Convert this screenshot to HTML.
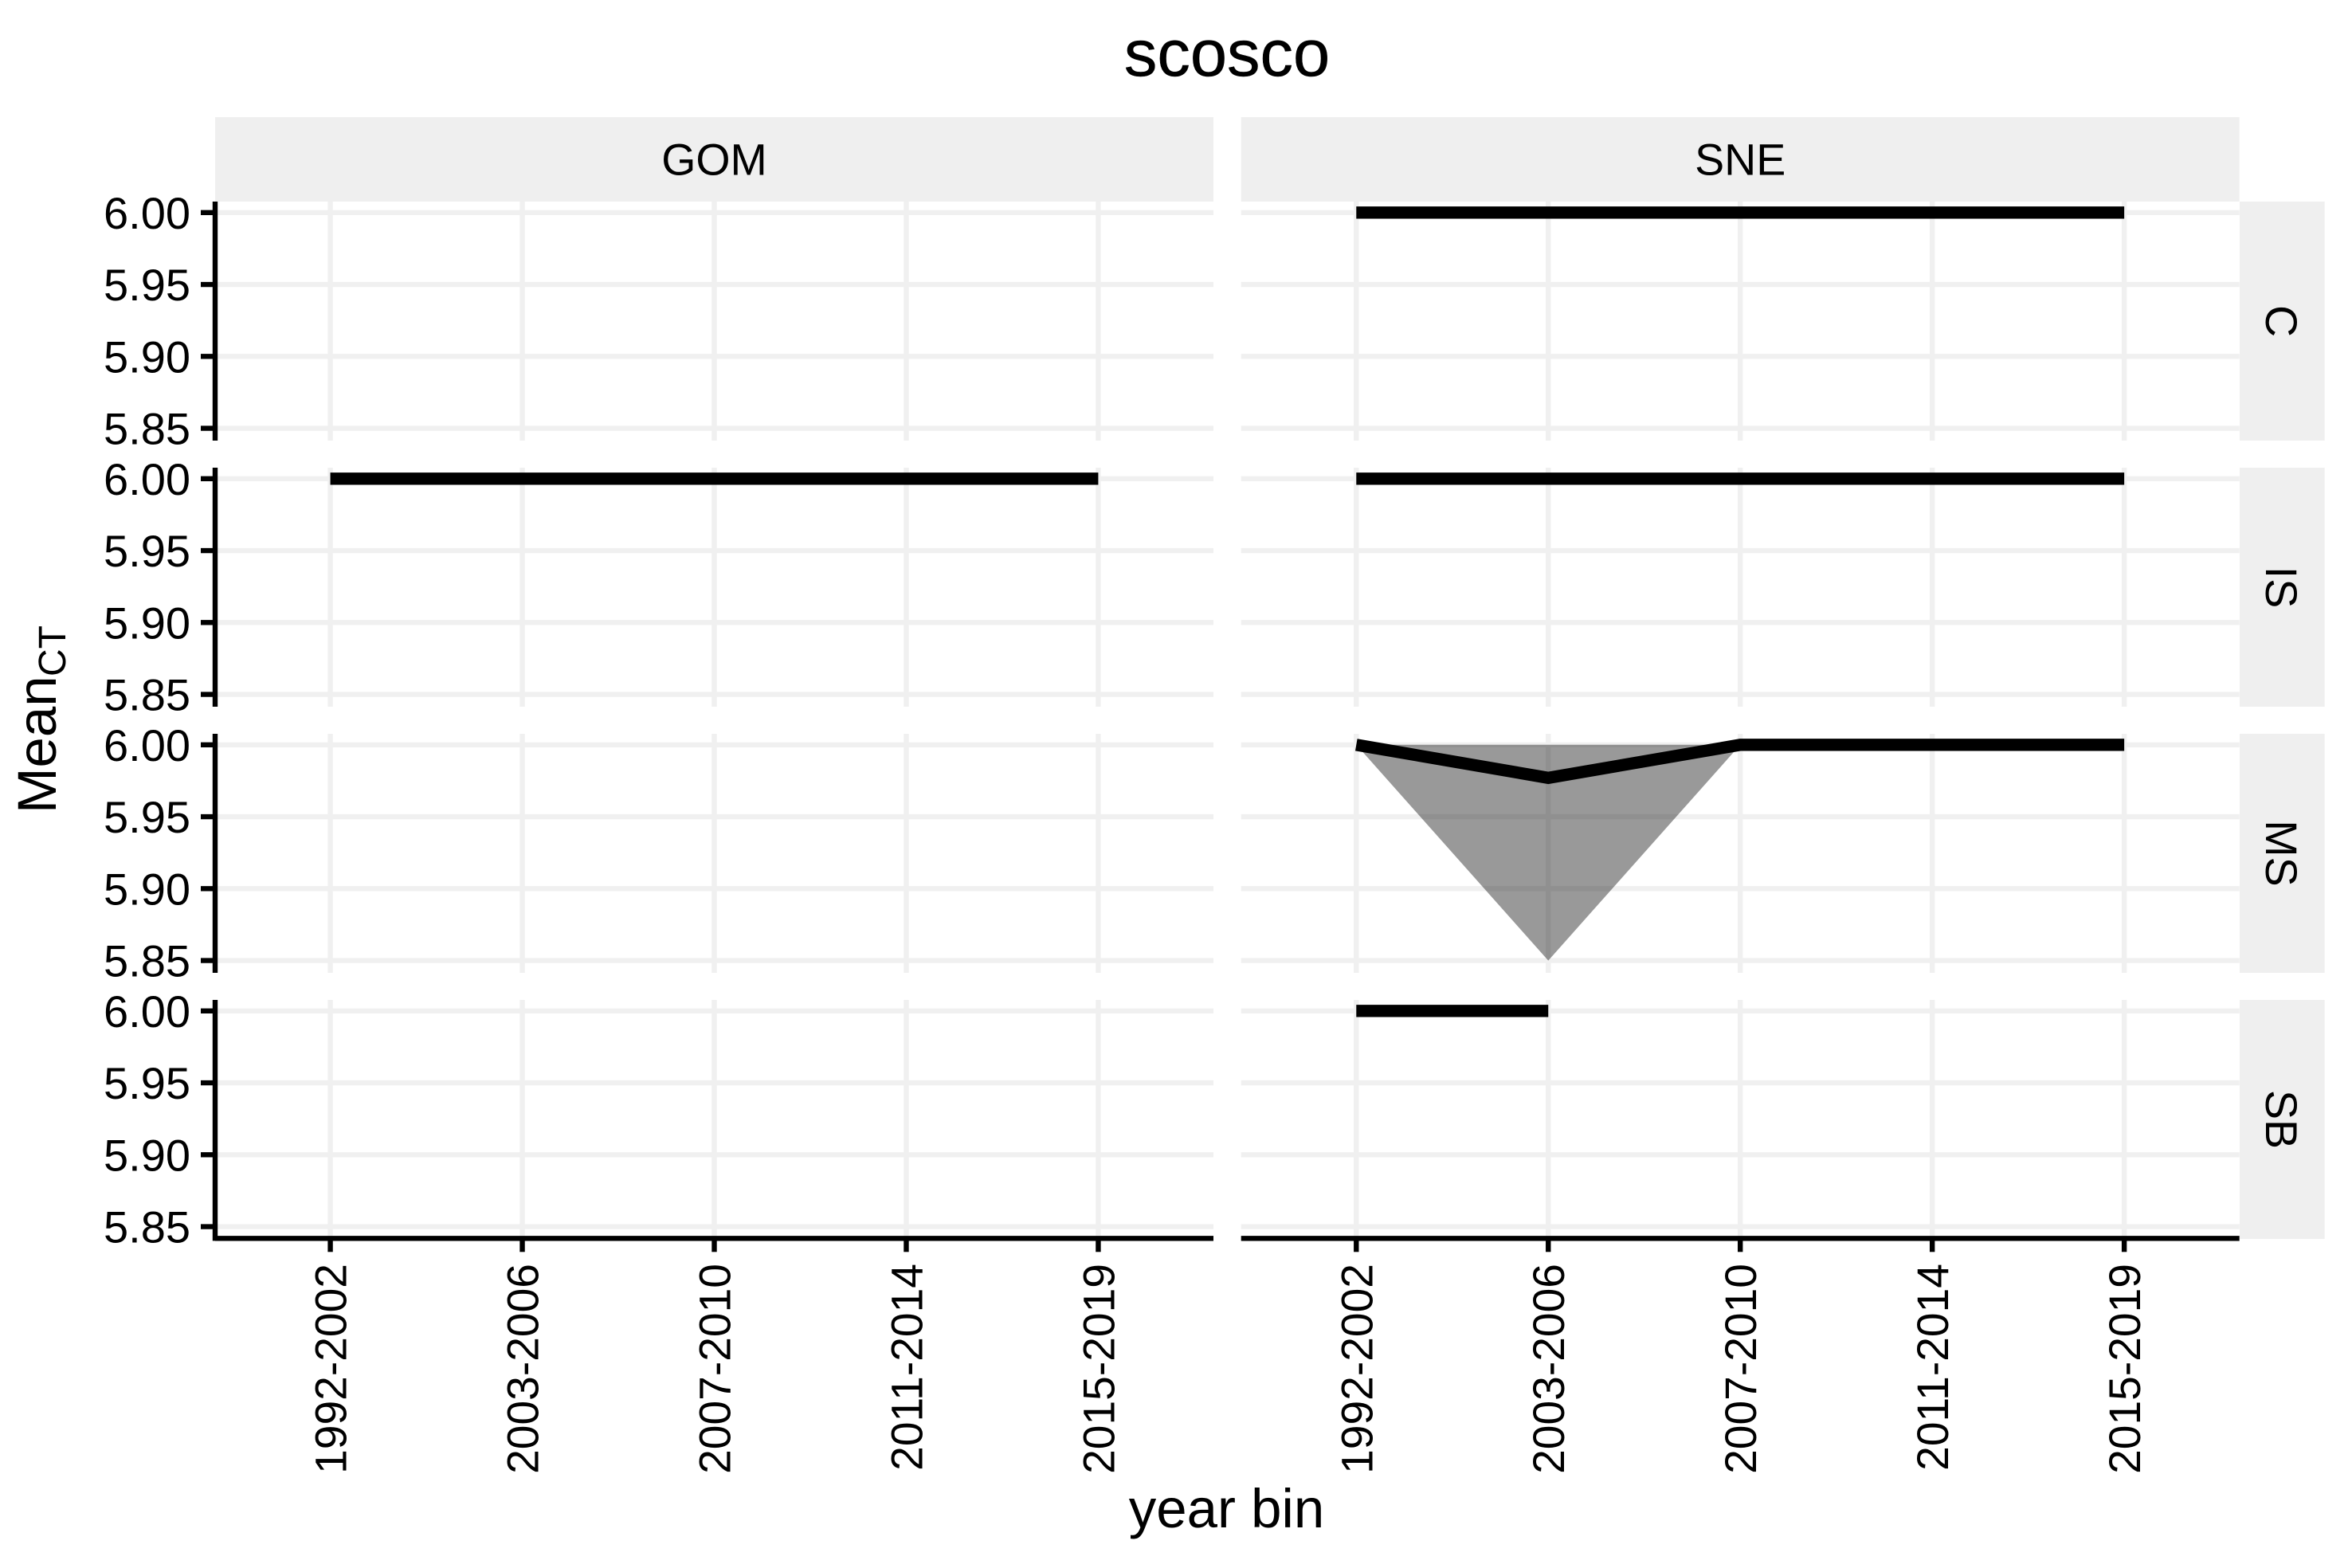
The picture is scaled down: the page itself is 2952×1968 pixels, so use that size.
<!DOCTYPE html>
<html lang="en">
<head>
<meta charset="utf-8">
<title>scosco</title>
<style>
html,body{margin:0;padding:0;background:#fff;}
svg{display:block;}
text{font-family:"Liberation Sans",Arial,sans-serif;fill:#000;}
</style>
</head>
<body>
<svg id="chart" xmlns="http://www.w3.org/2000/svg" width="2952" height="1968" viewBox="0 0 2952 1968">
<rect x="0" y="0" width="2952" height="1968" fill="#ffffff"/>
<g id="panels"></g>
<text x="1540" y="95" font-size="83" text-anchor="middle" stroke="#000" stroke-width="0.5">scosco</text>
<text x="1539.5" y="1917" font-size="69" text-anchor="middle">year bin</text>
<text transform="translate(70 1021) rotate(-90)" font-size="69">Mean</text>
<text transform="translate(82 849) rotate(-90)" font-size="48">CT</text>
</svg>
<script>
const categories = ['1992-2002', '2003-2006', '2007-2010', '2011-2014', '2015-2019'];
const columnLabels = ['GOM', 'SNE'];
const rowLabels = ['C', 'IS', 'MS', 'SB'];
const yTicks = [6.00, 5.95, 5.90, 5.85];
const yTickLabels = ['6.00', '5.95', '5.90', '5.85'];

const sneCMean = [6, 6, 6, 6, 6];
const gomISMean = [6, 6, 6, 6, 6];
const sneISMean = [6, 6, 6, 6, 6];
const sneMSMean = [6, 5.977, 6, 6, 6];
const sneMSUpper = [6, 6, 6, 6, 6];
const sneMSLower = [6, 5.85, 6, 6, 6];
const sneSBMean = [6, 6];

const NS = 'http://www.w3.org/2000/svg';
const root = document.getElementById('panels');
const panelW = 1253, panelH = 300, rowPitch = 334, firstRowTop = 253;
const colLefts = [270, 1557.7];
const yMax = 6.00765, yMin = 5.84145;

function xScale(col, i) { return colLefts[col] + (i + 0.6) * panelW / 5.2; }
function rowTop(row) { return firstRowTop + row * rowPitch; }
function yScale(row, v) { return rowTop(row) + (yMax - v) / (yMax - yMin) * panelH; }

function make(tag, attrs, name, parent) {
  const el = document.createElementNS(NS, tag);
  for (const k in attrs) el.setAttribute(k, attrs[k]);
  
  
  (parent || root).appendChild(el);
  return el;
}
function label(text, attrs, name) {
  const el = make('text', attrs, name);
  el.textContent = text;
  return el;
}
function line(x1, y1, x2, y2, stroke, w, name) {
  return make('line', { x1: x1, y1: y1, x2: x2, y2: y2, stroke: stroke, 'stroke-width': w }, name);
}

const GRID = '#f0f0f0', STRIP = '#efefef', GW = 6.4, AW = 6.4;

/* strips */
columnLabels.forEach(function (c, ci) {
  make('rect', { x: colLefts[ci], y: 147, width: panelW, height: 106, fill: STRIP }, 'column-strip-' + c.toLowerCase());
  label(c, { x: colLefts[ci] + panelW / 2, y: 219.5, 'font-size': 55.5, 'text-anchor': 'middle' }, 'column-label-' + c.toLowerCase());
});
rowLabels.forEach(function (r, ri) {
  const mid = rowTop(ri) + panelH / 2;
  make('rect', { x: 2811, y: rowTop(ri), width: 106.7, height: panelH, fill: STRIP }, 'row-strip-' + r.toLowerCase());
  label(r, { transform: 'translate(2844 ' + mid + ') rotate(90)', 'font-size': 55.5, 'text-anchor': 'middle' }, 'row-label-' + r.toLowerCase());
});

/* grid */
rowLabels.forEach(function (r, ri) {
  columnLabels.forEach(function (c, ci) {
    yTicks.forEach(function (t) {
      line(colLefts[ci], yScale(ri, t), colLefts[ci] + panelW, yScale(ri, t), GRID, GW, 'gridline-horizontal');
    });
    categories.forEach(function (cat, i) {
      line(xScale(ci, i), rowTop(ri), xScale(ci, i), rowTop(ri) + panelH, GRID, GW, 'gridline-vertical');
    });
  });
});

/* ribbon */
function drawRibbon(col, row, upper, lower, name) {
  const pts = [];
  upper.forEach(function (v, i) { pts.push(xScale(col, i) + ',' + yScale(row, v)); });
  for (let i = lower.length - 1; i >= 0; i--) pts.push(xScale(col, i) + ',' + yScale(row, lower[i]));
  make('polygon', { points: pts.join(' '), fill: '#000000', 'fill-opacity': 0.4 }, name);
}
drawRibbon(1, 2, sneMSUpper, sneMSLower, 'confidence-ribbon-sne-ms');

/* series lines */
function drawLine(col, row, values, name) {
  const pts = values.map(function (v, i) { return xScale(col, i) + ',' + yScale(row, v); }).join(' ');
  make('polyline', { points: pts, fill: 'none', stroke: '#000000', 'stroke-width': 15.3, 'stroke-linecap': 'butt', 'stroke-linejoin': 'miter' }, name);
}
drawLine(1, 0, sneCMean, 'line-sne-c');
drawLine(0, 1, gomISMean, 'line-gom-is');
drawLine(1, 1, sneISMean, 'line-sne-is');
drawLine(1, 2, sneMSMean, 'line-sne-ms');
drawLine(1, 3, sneSBMean, 'line-sne-sb');

/* y axes */
rowLabels.forEach(function (r, ri) {
  const bottom = rowTop(ri) + panelH + (ri === 3 ? 2.4 : 0);
  line(colLefts[0], rowTop(ri), colLefts[0], bottom, '#000', AW, 'y-axis-line-' + r.toLowerCase());
  yTicks.forEach(function (t, k) {
    const y = yScale(ri, t);
    line(colLefts[0] - 18, y, colLefts[0], y, '#000', AW, 'y-axis-tick');
    label(yTickLabels[k], { x: 239, y: y + 20, 'font-size': 56, 'text-anchor': 'end' }, 'y-tick-label');
  });
});

/* x axes */
columnLabels.forEach(function (c, ci) {
  const axisY = rowTop(3) + panelH - 0.7;
  line(colLefts[ci], axisY, colLefts[ci] + panelW, axisY, '#000', AW, 'x-axis-line-' + c.toLowerCase());
  categories.forEach(function (cat, i) {
    const x = xScale(ci, i);
    line(x, axisY, x, axisY + 17, '#000', AW, 'x-axis-tick');
    label(cat, { transform: 'translate(' + (x + 20) + ' 1586) rotate(-90)', 'font-size': 55.2, 'text-anchor': 'end' }, 'x-tick-label');
  });
});
</script>
</body>
</html>
